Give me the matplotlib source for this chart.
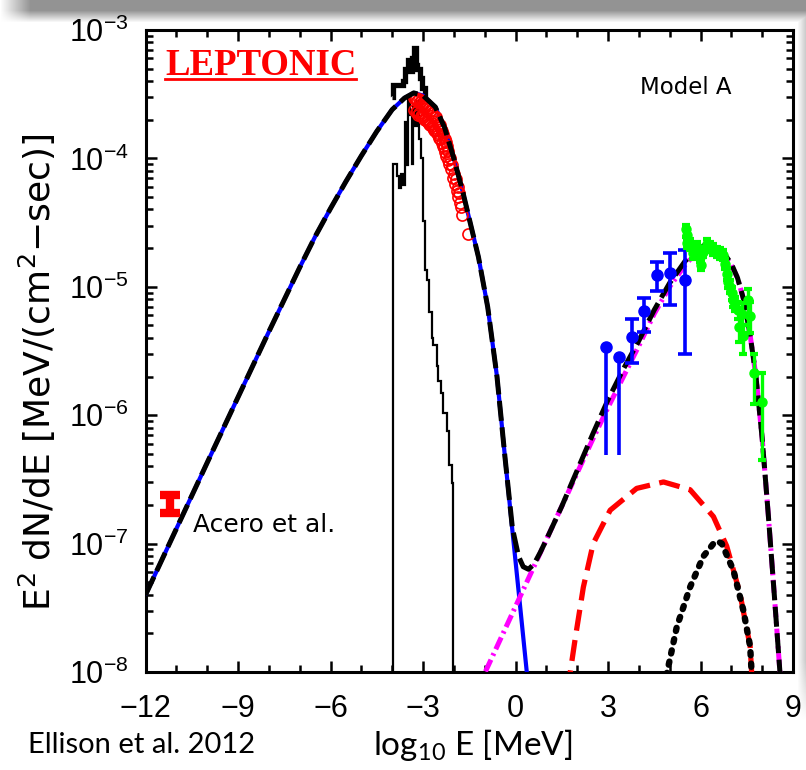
import numpy as np
import matplotlib
matplotlib.use("Agg")
import matplotlib.pyplot as plt
from matplotlib.ticker import MultipleLocator, LogLocator, NullFormatter
from matplotlib.lines import Line2D

plt.rcParams['font.family'] = ['Liberation Sans', 'DejaVu Sans']
plt.rcParams['mathtext.fontset'] = 'custom'
plt.rcParams['mathtext.rm'] = 'Liberation Sans'
plt.rcParams['mathtext.it'] = 'Liberation Sans:italic'
plt.rcParams['mathtext.bf'] = 'Liberation Sans:bold'
plt.rcParams['axes.unicode_minus'] = True

# ---------------- data: log10 E [MeV] and log10 E^2 dN/dE ----------------
sync_logE = [-12.0, -10.0, -8.0, -7.5, -7.0, -6.5, -6.0, -5.5, -5.0, -4.5, -4.0,
             -3.6, -3.3, -3.0, -2.6, -2.3, -2.0, -1.7, -1.47, -1.2, -0.9, -0.6,
             -0.34, -0.1, 0.1, 0.37, 0.5]
sync_logF = [-7.40, -6.37, -5.35, -5.10, -4.85, -4.61, -4.39, -4.18, -3.98, -3.79, -3.62,
             -3.53, -3.49, -3.51, -3.60, -3.76, -4.00, -4.27, -4.50, -4.77, -5.16, -5.70,
             -6.33, -6.90, -7.37, -8.01, -8.32]

total_logE = [-12.0, -10.0, -8.0, -7.5, -7.0, -6.5, -6.0, -5.5, -5.0, -4.5, -4.0,
              -3.6, -3.3, -3.0, -2.6, -2.3, -2.0, -1.7, -1.47, -1.2, -0.9, -0.6,
              -0.34, -0.1, 0.1, 0.25, 0.42, 0.6, 0.8, 1.0, 1.5, 2.0, 2.5, 3.0, 3.5,
              4.0, 4.5, 5.0, 5.5, 5.8, 6.1, 6.4, 6.7, 7.0, 7.2, 7.4, 7.6, 7.8, 8.0,
              8.2, 8.4, 8.6, 8.7]
total_logF = [-7.40, -6.37, -5.35, -5.10, -4.85, -4.61, -4.39, -4.18, -3.98, -3.79, -3.62,
              -3.53, -3.49, -3.51, -3.60, -3.76, -4.00, -4.27, -4.50, -4.77, -5.16, -5.70,
              -6.33, -6.88, -7.10, -7.18, -7.20, -7.16, -7.07, -6.97, -6.71, -6.43, -6.15,
              -5.88, -5.64, -5.42, -5.18, -4.97, -4.80, -4.73, -4.68, -4.68, -4.72, -4.82,
              -4.93, -5.10, -5.36, -5.70, -6.18, -6.78, -7.42, -8.08, -8.40]

ic_logE = [-1.3, -1.0, 0.0, 1.0, 2.0, 2.5, 3.0, 3.5, 4.0, 4.5, 5.0, 5.5, 5.8, 6.1,
           6.4, 6.7, 7.0, 7.2, 7.4, 7.6, 7.8, 8.0, 8.2, 8.4, 8.6, 8.7]
ic_logF = [-8.17, -8.01, -7.49, -6.97, -6.45, -6.19, -5.94, -5.70, -5.46, -5.21, -5.00,
           -4.83, -4.75, -4.70, -4.69, -4.73, -4.83, -4.93, -5.10, -5.36, -5.70, -6.18,
           -6.78, -7.42, -8.08, -8.40]

brems_logE = [1.70, 1.77, 1.93, 2.20, 2.52, 3.07, 3.93, 4.80, 5.66, 6.42, 6.85, 7.28, 7.61, 7.66, 7.70]
brems_logF = [-8.15, -8.01, -7.75, -7.34, -7.00, -6.74, -6.57, -6.52, -6.58, -6.79, -7.02,
              -7.39, -7.80, -8.01, -8.15]

pion_logE = [4.85, 4.91, 5.23, 5.66, 6.09, 6.42, 6.55, 6.69, 7.07, 7.39, 7.61, 7.66, 7.69]
pion_logF = [-8.12, -8.01, -7.65, -7.34, -7.10, -7.00, -6.98, -7.00, -7.21, -7.52, -7.80,
             -8.01, -8.12]

# thermal X-ray histogram (thin) and its dense upper envelope (thick)
hist_edges = [-3.98, -3.85, -3.77, -3.70, -3.64, -3.58, -3.53, -3.48, -3.43, -3.37,
              -3.31, -3.26, -3.20, -3.14, -3.08, -3.01, -2.93, -2.88, -2.79, -2.72,
              -2.66, -2.55, -2.50, -2.42, -2.34, -2.23, -2.15, -2.07, -2.02]
hist_logF = [-4.04, -4.14, -4.23, -4.12, -4.21, -3.72, -4.05, -3.52, -3.66, -4.04,
             -3.60, -3.75, -3.55, -3.85, -4.00, -4.49, -4.87, -4.95, -5.20, -5.40,
             -5.45, -5.62, -5.73, -5.83, -5.98, -6.12, -6.39, -6.53]
env_edges = [-4.01, -3.97, -3.64, -3.58, -3.50, -3.42, -3.36, -3.30, -3.24, -3.18,
             -3.10, -3.02, -2.95, -2.88]
env_logF = [-3.52, -3.43, -3.40, -3.30, -3.23, -3.32, -3.22, -3.14, -3.27, -3.30,
            -3.37, -3.45, -3.52]

# X-ray data (open red circles)
xray_logE = [-3.30, -3.26, -3.22, -3.18, -3.14, -3.10, -3.06, -3.02, -2.98, -2.94,
             -2.90, -2.86, -2.82, -2.78, -2.74, -2.70, -2.66, -2.62, -2.58, -2.54,
             -2.50, -2.46, -2.42, -2.38, -2.34, -2.30, -2.26, -2.22, -2.18,
             -3.28, -3.24, -3.20, -3.16, -3.12, -3.08, -3.04, -3.00, -2.96, -2.92,
             -2.88, -2.84, -2.80, -2.76, -2.72, -2.68, -2.64, -2.60, -2.56, -2.52,
             -2.48, -2.44, -2.40, -2.36, -2.32, -2.28, -2.24, -2.20, -2.16,
             -2.14, -2.10, -2.06, -2.03, -2.00, -1.97, -1.94, -1.91, -1.88, -1.85,
             -1.82, -1.79, -1.76, -1.73, -1.55]
xray_logF = [-3.53, -3.54, -3.53, -3.55, -3.54, -3.56, -3.55, -3.57, -3.57, -3.59,
             -3.58, -3.61, -3.61, -3.63, -3.62, -3.65, -3.66, -3.68, -3.68, -3.71,
             -3.73, -3.74, -3.77, -3.79, -3.81, -3.85, -3.87, -3.90, -3.94,
             -3.62, -3.64, -3.63, -3.66, -3.65, -3.67, -3.66, -3.68, -3.69, -3.70,
             -3.71, -3.72, -3.73, -3.74, -3.75, -3.76, -3.78, -3.79, -3.80, -3.82,
             -3.84, -3.85, -3.88, -3.90, -3.92, -3.95, -3.98, -4.01, -4.04,
             -4.00, -4.08, -4.05, -4.15, -4.12, -4.20, -4.16, -4.25, -4.22, -4.30,
             -4.27, -4.35, -4.38, -4.44, -4.59]

# Fermi-LAT points (blue)
fermi_logE = [2.94, 3.37, 3.77, 4.18, 4.58, 5.01, 5.50]
fermi_logF = [-5.47, -5.55, -5.39, -5.19, -4.91, -4.89, -4.95]
fermi_lo = [-6.31, -6.31, -5.59, -5.35, -5.03, -5.14, -5.52]
fermi_hi = [-5.45, -5.53, -5.25, -5.09, -4.81, -4.74, -4.71]

# HESS points (green)
hess_logE = [5.53, 5.55, 5.57, 5.66, 5.77, 5.88, 5.99, 6.01, 6.09, 6.20, 6.31, 6.42,
             6.53, 6.64, 6.74, 6.80, 6.85, 6.90, 6.96, 7.01, 7.07, 7.12, 7.23, 7.26,
             7.34, 7.39, 7.55, 7.59, 7.72, 7.99]
hess_logF = [-4.55, -4.60, -4.66, -4.67, -4.74, -4.69, -4.77, -4.83, -4.73, -4.67, -4.69,
             -4.71, -4.73, -4.74, -4.75, -4.82, -4.90, -4.96, -5.00, -5.05, -5.10, -5.13,
             -5.18, -5.31, -5.21, -5.38, -5.10, -5.23, -5.67, -5.90]
hess_lo = [-4.61, -4.64, -4.70, -4.71, -4.78, -4.73, -4.81, -4.87, -4.77, -4.71, -4.73,
           -4.75, -4.77, -4.78, -4.79, -4.86, -4.95, -5.01, -5.05, -5.10, -5.16, -5.19,
           -5.25, -5.43, -5.30, -5.52, -5.36, -5.36, -5.91, -6.35]
hess_hi = [-4.52, -4.56, -4.62, -4.63, -4.70, -4.65, -4.73, -4.79, -4.69, -4.63, -4.65,
           -4.67, -4.69, -4.70, -4.71, -4.78, -4.85, -4.91, -4.95, -5.00, -5.05, -5.08,
           -5.12, -5.20, -5.13, -5.30, -5.02, -5.12, -5.52, -5.67]

# Acero et al. point
acero_logE = [-11.21]
acero_logF = [-6.69]
acero_lo = [-6.76]
acero_hi = [-6.62]

p = lambda a: 10.0 ** np.asarray(a)

W, H = 806, 770
fig = plt.figure(figsize=(W / 100, H / 100), dpi=100)

# slide shading (grey band at top and faint one at right edge)
bg = fig.add_axes([0, 0, 1, 1], zorder=-10)
yy, xx = np.mgrid[0:H, 0:W]
top = np.clip((22.0 - yy) / 12.0, 0, 1) * np.clip(xx / 30.0, 0, 1) * 0.42
right = np.clip((xx - 797.0) / 9.0, 0, 1) * np.clip((720.0 - yy) / 60.0, 0, 1) * 0.22
shade = np.maximum(top, right)
bg.imshow(np.dstack([1 - shade] * 3), extent=(0, W, H, 0), aspect='auto', interpolation='bilinear')
bg.set_xlim(0, W); bg.set_ylim(H, 0); bg.axis('off')

ax = fig.add_axes([145.5 / W, 1 - 672 / H, (793 - 145.5) / W, (672 - 30) / H])
ax.set_facecolor('none')

# histograms
ax.stairs(p(hist_logF), hist_edges, baseline=1e-12, color='black', lw=1.6, zorder=2)
ax.stairs(p(env_logF), env_edges, baseline=None, color='black', lw=3.8, zorder=2)

# model curves
ax.plot(sync_logE, p(sync_logF), color='#0000ff', lw=3.0, zorder=3, solid_capstyle='butt')
ax.plot(ic_logE, p(ic_logF), color='#ff00ff', lw=3.6, zorder=3,
        linestyle=(0, (2.6, 0.9, 0.5, 0.9)))
ax.plot(brems_logE, p(brems_logF), color='#ff0000', lw=3.8, zorder=3,
        linestyle=(0, (4.0, 1.8)))
ax.plot(pion_logE, p(pion_logF), color='black', lw=4.6, zorder=3.5,
        linestyle=(0, (0.5, 1.3)), dash_capstyle='round')

# X-ray data
ax.plot(xray_logE, p(xray_logF), linestyle='none', marker='o', ms=8, mfc='none',
        mec='#ff0000', mew=1.2, zorder=4)

# total
ax.plot(total_logE, p(total_logF), color='black', lw=3.6, zorder=5,
        linestyle=(0, (4.0, 1.3)))

# Fermi
ferr = [p(fermi_logF) - p(fermi_lo), p(fermi_hi) - p(fermi_logF)]
ax.errorbar(fermi_logE[:2], p(fermi_logF[:2]), yerr=[ferr[0][:2], ferr[1][:2]], fmt='o',
            color='#0000ff', ms=8, elinewidth=2.6, capsize=0, zorder=6)
ax.errorbar(fermi_logE[2:], p(fermi_logF[2:]), yerr=[ferr[0][2:], ferr[1][2:]], fmt='o',
            color='#0000ff', ms=8, elinewidth=2.6, capsize=5, capthick=2.6, zorder=6)

# HESS
herr = [p(hess_logF) - p(hess_lo), p(hess_hi) - p(hess_logF)]
ax.errorbar(hess_logE, p(hess_logF), yerr=herr, fmt='o', color='#00ff00', ms=6.5,
            elinewidth=2.4, capsize=3, capthick=3, zorder=6)

# Acero
aerr = [p(acero_logF) - p(acero_lo), p(acero_hi) - p(acero_logF)]
ax.errorbar(acero_logE, p(acero_logF), yerr=aerr, fmt='none', ecolor='#ff0000',
            elinewidth=6, capsize=7, capthick=6, zorder=6)

ax.set_xlim(-12, 9)
ax.set_yscale('log')
ax.set_ylim(1e-8, 1e-3)
ax.xaxis.set_major_locator(MultipleLocator(3))
ax.xaxis.set_minor_locator(MultipleLocator(1))
ax.yaxis.set_major_locator(LogLocator(base=10, numticks=10))
ax.yaxis.set_minor_locator(LogLocator(base=10, subs=np.arange(2, 10), numticks=100))
ax.yaxis.set_minor_formatter(NullFormatter())
for s in ax.spines.values():
    s.set_linewidth(2.2)
ax.tick_params(which='both', direction='in', top=True, right=True, width=1.8)
ax.tick_params(which='major', length=8)
ax.tick_params(which='minor', length=5)
ax.tick_params(axis='both', which='major', labelsize=22)
ax.tick_params(axis='x', pad=16)
ax.tick_params(axis='y', pad=12)

# texts
t = ax.text(0.030, 0.930, 'LEPTONIC', transform=ax.transAxes, family='Liberation Serif',
            weight='bold', size=26.5, color='#ff0000', ha='left', va='baseline')
ax.text(0.764, 0.911, 'Model A', transform=ax.transAxes, family='DejaVu Sans', size=16.5,
        ha='left', va='center')
ax.text(0.073, 0.229, 'Acero et al.', transform=ax.transAxes, family='DejaVu Sans', size=18,
        ha='left', va='center')
fig.text(0.046, 0.517, r'$\mathdefault{E^2\ dN/dE\ [MeV/(cm^2{-}sec)]}$', rotation=90,
         family='DejaVu Sans', size=26, ha='center', va='center')
fig.text(0.587, 0.0325, r'log$_{\mathdefault{10}}$ E [MeV]', family='Lato', size=24,
         ha='center', va='center')
fig.text(0.035, 0.0325, 'Ellison et al. 2012', family='Lato', size=21, ha='left', va='center')

fig.canvas.draw()
bb = t.get_window_extent()
yl = (1 - 672 / H) + 0.923 * ((672 - 30) / H)
fig.add_artist(Line2D([bb.x0 / fig.bbox.width, bb.x1 / fig.bbox.width], [yl, yl],
                      transform=fig.transFigure, color='#ff0000', lw=2.0))

fig.savefig('out.png', dpi=100)
